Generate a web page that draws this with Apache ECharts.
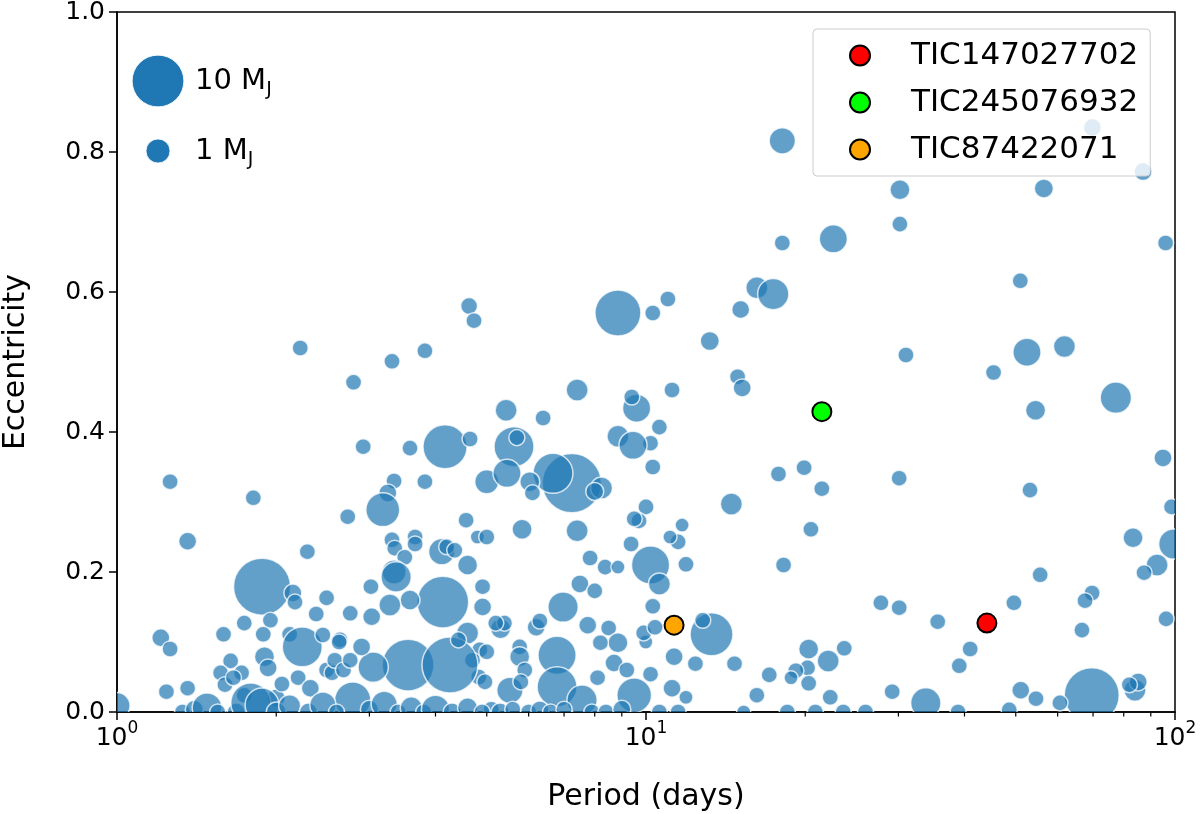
<!DOCTYPE html>
<html>
<head>
<meta charset="utf-8">
<script src="https://cdn.jsdelivr.net/npm/echarts@6/dist/echarts.min.js"></script>
<style>
  html, body { margin: 0; padding: 0; background: #fff; }
  #chart { width: 1200px; height: 814px; }
</style>
</head>
<body>
<div id="chart"></div>
<script>
// known planets: [period (days), eccentricity, mass (M_J)]
const planets = [
  [18.1, 0.816, 1.3], [69.8, 0.835, 0.42], [87.0, 0.772, 0.42], [30.2, 0.746, 0.58],
  [30.2, 0.697, 0.3], [22.6, 0.676, 1.6], [18.1, 0.670, 0.3], [56.5, 0.748, 0.5],
  [96.0, 0.670, 0.3], [51.0, 0.616, 0.3], [16.2, 0.606, 0.77], [17.4, 0.597, 2.2],
  [15.1, 0.575, 0.42], [8.85, 0.570, 7.0], [10.3, 0.570, 0.3], [11.0, 0.590, 0.3],
  [4.63, 0.580, 0.35], [4.73, 0.559, 0.3], [3.82, 0.516, 0.3], [3.31, 0.501, 0.3],
  [2.80, 0.471, 0.3], [2.22, 0.520, 0.3], [13.2, 0.530, 0.5], [14.9, 0.479, 0.3],
  [15.2, 0.463, 0.42], [77.3, 0.449, 2.2], [54.5, 0.431, 0.58], [52.5, 0.514, 1.6],
  [61.8, 0.522, 0.77], [45.4, 0.485, 0.3], [31.0, 0.510, 0.3], [94.9, 0.363, 0.42],
  [53.2, 0.317, 0.3], [98.5, 0.293, 0.3], [83.3, 0.249, 0.58], [99.5, 0.240, 2.0],
  [92.5, 0.210, 0.77], [87.4, 0.199, 0.3], [55.6, 0.196, 0.3], [69.7, 0.170, 0.3],
  [67.6, 0.159, 0.3], [66.7, 0.117, 0.3], [96.2, 0.133, 0.3], [49.6, 0.156, 0.3],
  [41.0, 0.090, 0.3], [39.1, 0.066, 0.3], [35.6, 0.129, 0.3], [30.1, 0.149, 0.3],
  [27.8, 0.156, 0.3], [51.1, 0.031, 0.42], [54.6, 0.019, 0.3], [69.6, 0.024, 12.0],
  [60.6, 0.013, 0.3], [84.0, 0.031, 0.77], [85.2, 0.043, 0.42], [82.0, 0.039, 0.3],
  [33.8, 0.013, 2.0], [48.6, 0.003, 0.3], [38.9, 0.0, 0.3], [29.2, 0.029, 0.3],
  [23.7, 0.091, 0.3], [22.1, 0.073, 0.77], [20.3, 0.090, 0.58], [20.2, 0.063, 0.3],
  [19.2, 0.059, 0.3], [18.8, 0.049, 0.2], [20.3, 0.041, 0.3], [22.3, 0.021, 0.3],
  [17.1, 0.053, 0.3], [16.2, 0.024, 0.3], [15.3, 0.0, 0.2], [23.6, 0.0, 0.3],
  [26.0, 0.0, 0.3], [18.5, 0.0, 0.3], [20.9, 0.0, 0.3], [14.7, 0.069, 0.3],
  [13.3, 0.111, 5.7], [12.8, 0.131, 0.3], [12.4, 0.069, 0.3], [11.3, 0.079, 0.42],
  [11.2, 0.034, 0.42], [11.9, 0.021, 0.2], [11.5, 0.0, 0.3], [10.2, 0.054, 0.3],
  [9.99, 0.100, 0.2], [9.5, 0.024, 3.0], [10.3, 0.151, 0.3], [10.2, 0.210, 4.0],
  [10.6, 0.183, 0.77], [11.9, 0.211, 0.3], [11.5, 0.243, 0.3], [11.1, 0.250, 0.2],
  [11.7, 0.267, 0.2], [10.0, 0.293, 0.3], [9.7, 0.273, 0.3], [14.5, 0.297, 0.77],
  [10.3, 0.350, 0.3], [10.6, 0.407, 0.3], [10.2, 0.384, 0.3], [9.6, 0.434, 1.6],
  [11.2, 0.460, 0.3], [17.8, 0.340, 0.3], [19.9, 0.349, 0.3], [21.5, 0.319, 0.3],
  [30.1, 0.334, 0.3], [20.5, 0.261, 0.3], [18.2, 0.210, 0.3],
  [7.41, 0.460, 0.77], [9.4, 0.450, 0.3], [5.44, 0.431, 0.77], [6.39, 0.420, 0.3],
  [8.85, 0.394, 0.77], [9.45, 0.381, 1.6], [4.17, 0.379, 6.2], [4.65, 0.390, 0.3],
  [3.58, 0.377, 0.3], [2.92, 0.379, 0.3], [5.63, 0.379, 4.6], [5.7, 0.392, 0.3],
  [7.24, 0.327, 15.0], [6.67, 0.341, 4.6], [8.24, 0.320, 0.77], [8.0, 0.315, 0.42],
  [5.0, 0.329, 1.0], [5.46, 0.341, 1.6], [6.03, 0.329, 0.58], [6.1, 0.313, 0.3],
  [3.82, 0.329, 0.3], [3.34, 0.330, 0.3], [3.25, 0.313, 0.42], [3.18, 0.289, 2.8],
  [2.73, 0.279, 0.3], [2.29, 0.229, 0.3], [4.57, 0.274, 0.3], [5.83, 0.261, 0.58],
  [7.41, 0.259, 0.77], [9.5, 0.276, 0.3], [9.37, 0.240, 0.3], [4.8, 0.250, 0.2],
  [5.0, 0.250, 0.3], [3.66, 0.250, 0.3], [3.66, 0.240, 0.3], [3.31, 0.246, 0.3],
  [3.35, 0.234, 0.3], [4.11, 0.229, 1.3], [4.2, 0.236, 0.3], [4.35, 0.231, 0.3],
  [3.5, 0.221, 0.3], [4.6, 0.210, 0.58], [3.34, 0.200, 1.0], [7.84, 0.220, 0.3],
  [8.37, 0.207, 0.3], [8.85, 0.207, 0.2], [1.26, 0.329, 0.3], [1.81, 0.306, 0.3],
  [1.36, 0.244, 0.42], [3.37, 0.193, 2.0], [3.02, 0.179, 0.3], [4.13, 0.157, 10.0],
  [3.58, 0.160, 0.58], [4.91, 0.179, 0.3], [4.91, 0.150, 0.42], [4.6, 0.113, 0.77],
  [2.76, 0.141, 0.3], [3.03, 0.136, 0.42], [3.28, 0.153, 0.77], [7.5, 0.183, 0.42],
  [8.0, 0.173, 0.3], [6.97, 0.150, 2.0], [5.31, 0.119, 0.58], [5.4, 0.127, 0.3],
  [6.2, 0.121, 0.42], [6.3, 0.130, 0.3], [9.9, 0.113, 0.3], [10.4, 0.121, 0.3],
  [7.76, 0.124, 0.42], [8.5, 0.120, 0.3], [8.85, 0.099, 0.58], [6.79, 0.081, 4.0],
  [8.2, 0.099, 0.3], [5.77, 0.093, 0.3], [5.77, 0.079, 0.58], [5.2, 0.127, 0.3],
  [4.85, 0.089, 0.3], [4.7, 0.074, 0.3], [4.83, 0.050, 0.3], [3.55, 0.067, 10.0],
  [4.26, 0.067, 12.7], [6.79, 0.036, 4.6], [5.53, 0.031, 1.3], [7.57, 0.017, 2.0],
  [8.1, 0.049, 0.3], [8.7, 0.070, 0.42], [9.2, 0.060, 0.3], [2.79, 0.017, 3.4],
  [3.05, 0.064, 2.0], [2.90, 0.093, 0.42], [2.64, 0.103, 0.3], [4.42, 0.103, 0.3],
  [5.0, 0.086, 0.3], [4.96, 0.043, 0.3], [5.9, 0.060, 0.3], [5.8, 0.043, 0.3],
  [5.1, 0.004, 0.3],
  [1.88, 0.179, 13.4], [2.15, 0.170, 0.42], [2.17, 0.157, 0.3], [2.49, 0.163, 0.3],
  [2.38, 0.140, 0.3], [1.95, 0.131, 0.3], [1.74, 0.127, 0.3], [1.59, 0.111, 0.3],
  [1.89, 0.111, 0.3], [2.12, 0.111, 0.3], [2.24, 0.093, 4.6], [2.45, 0.110, 0.3],
  [2.63, 0.100, 0.3], [1.90, 0.079, 0.58], [1.93, 0.063, 0.42], [1.64, 0.073, 0.3],
  [1.57, 0.056, 0.3], [1.72, 0.056, 0.3], [1.60, 0.039, 0.3], [1.66, 0.049, 0.3],
  [1.36, 0.034, 0.3], [2.20, 0.049, 0.3], [2.32, 0.034, 0.42], [2.49, 0.060, 0.3],
  [2.55, 0.056, 0.3], [2.58, 0.074, 0.3], [2.68, 0.060, 0.3], [2.76, 0.074, 0.3],
  [1.21, 0.106, 0.42], [1.26, 0.090, 0.3], [1.24, 0.029, 0.3], [1.74, 0.024, 0.3],
  [2.0, 0.020, 0.42], [2.05, 0.040, 0.3],
  [1.00, 0.009, 1.3], [1.33, 0.0, 0.3], [1.40, 0.004, 0.42], [1.48, 0.006, 1.9],
  [1.55, 0.0, 0.3], [1.68, 0.0, 0.42], [1.79, 0.013, 4.6], [1.88, 0.010, 2.8],
  [2.0, 0.0, 0.58], [2.12, 0.009, 0.77], [2.3, 0.0, 0.42], [2.45, 0.010, 1.3],
  [2.6, 0.0, 0.3], [3.0, 0.004, 0.42], [3.2, 0.011, 1.3], [3.4, 0.0, 0.3],
  [3.6, 0.006, 0.77], [3.8, 0.0, 0.3], [4.0, 0.004, 1.6], [4.3, 0.0, 0.42],
  [4.6, 0.006, 0.58], [4.9, 0.0, 0.3], [5.3, 0.0, 0.42], [5.6, 0.004, 0.3],
  [6.0, 0.0, 0.3], [6.3, 0.003, 0.42], [6.6, 0.0, 0.3], [7.0, 0.004, 0.3],
  [7.9, 0.0, 0.3], [8.4, 0.0, 0.3], [9.0, 0.004, 0.42], [10.6, 0.0, 0.3]
];

// TESS targets
const ticNames = ['TIC147027702', 'TIC245076932', 'TIC87422071'];
const ticPeriod = [44.1, 21.5, 11.3];
const ticEcc = [0.127, 0.429, 0.124];
const ticColors = ['#ff0000', '#00ff00', '#ffa500'];

// size key
const keyMass = [10, 1];
const keyLabels = ['10 M{sub|J}', '1 M{sub|J}'];

const xMinorTicks = [2, 3, 4, 5, 6, 7, 8, 9, 20, 30, 40, 50, 60, 70, 80, 90];

const FONT = 'DejaVu Sans';
// marker diameter in px from mass (1 M_J -> 24 px)
function diam(m) { return 24 * Math.cbrt(m); }

const chart = echarts.init(document.getElementById('chart'), null, { renderer: 'canvas' });

const ticSeries = ticNames.map((name, i) => ({
  name: name,
  type: 'scatter',
  data: [[ticPeriod[i], ticEcc[i]]],
  symbol: 'circle',
  symbolSize: 19,
  itemStyle: { color: ticColors[i], borderColor: '#000', borderWidth: 2, opacity: 1 },
  z: 5,
  silent: true
}));

// size key drawn as graphic next to plot
const keyGraphics = [];
keyMass.forEach((m, i) => {
  const cy = [81, 151][i];
  keyGraphics.push({
    type: 'circle', shape: { cx: 158, cy: cy, r: diam(m) / 2 },
    style: { fill: '#1f77b4', stroke: 'rgba(255,255,255,0.8)', lineWidth: 1 }, z: 10
  });
  keyGraphics.push({
    type: 'text', x: 195, y: cy, z: 10,
    style: {
      text: keyLabels[i], fill: '#000', font: '29px ' + FONT, verticalAlign: 'middle',
      rich: {
        sub: { fontSize: 19, fontFamily: FONT, lineHeight: 19, verticalAlign: 'bottom' }
      },
      lineHeight: 38
    }
  });
});

const option = {
  animation: false,
  backgroundColor: '#fff',
  grid: {
    left: 117, right: 25, top: 12, bottom: 102,
    containLabel: false, outerBoundsMode: 'none',
    show: true, borderColor: '#000', borderWidth: 1.5, backgroundColor: 'transparent'
  },
  legend: {
    data: ticNames,
    orient: 'vertical',
    left: 813, top: 29,
    padding: [11, 12, 11, 36],
    itemGap: 16,
    itemWidth: 20, itemHeight: 20,
    icon: 'circle',
    backgroundColor: 'rgba(255,255,255,0.8)',
    borderColor: '#cccccc', borderWidth: 1, borderRadius: 4,
    textStyle: { fontFamily: FONT, fontSize: 31, color: '#000', padding: [0, 0, 0, 36] },
    z: 20
  },
  xAxis: {
    type: 'log', logBase: 10, min: 1, max: 100,
    name: 'Period (days)', nameLocation: 'middle', nameGap: 70,
    nameTextStyle: { fontFamily: FONT, fontSize: 30, color: '#000' },
    axisLine: { lineStyle: { color: '#000', width: 1.5 } },
    axisTick: { show: true, inside: false, length: 8, lineStyle: { color: '#000', width: 1.5 } },
    splitLine: { show: false },
    axisLabel: {
      margin: 8, color: '#000', fontFamily: FONT, fontSize: 25,
      formatter: v => '10{sup|' + Math.round(Math.log10(v)) + '}',
      rich: { sup: { fontSize: 17, fontFamily: FONT, lineHeight: 17, verticalAlign: 'top' } },
      lineHeight: 36
    }
  },
  yAxis: {
    type: 'value', min: 0, max: 1, interval: 0.2,
    name: 'Eccentricity', nameLocation: 'middle', nameGap: 86,
    nameTextStyle: { fontFamily: FONT, fontSize: 30, color: '#000' },
    axisLine: { show: true, lineStyle: { color: '#000', width: 1.5 } },
    axisTick: { show: true, length: 8, lineStyle: { color: '#000', width: 1.5 } },
    splitLine: { show: false },
    axisLabel: {
      margin: 12, color: '#000', fontFamily: FONT, fontSize: 25,
      formatter: v => v.toFixed(1)
    }
  },
  graphic: keyGraphics,
  series: [
    {
      name: 'planets',
      type: 'custom',
      data: planets,
      encode: { x: 0, y: 1 },
      clip: true,
      silent: true,
      z: 2,
      renderItem: function (params, api) {
        const pt = api.coord([api.value(0), api.value(1)]);
        return {
          type: 'circle',
          shape: { cx: pt[0], cy: pt[1], r: diam(api.value(2)) / 2 },
          style: { fill: 'rgba(31,119,180,0.7)', stroke: 'rgba(255,255,255,0.75)', lineWidth: 1.5 }
        };
      }
    },
    {
      name: 'minor ticks',
      type: 'custom',
      data: xMinorTicks.map(v => [v, 0]),
      encode: { x: 0, y: 1 },
      clip: false,
      silent: true,
      z: 6,
      renderItem: function (params, api) {
        const pt = api.coord([api.value(0), 0]);
        return {
          type: 'line',
          shape: { x1: pt[0], y1: pt[1], x2: pt[0], y2: pt[1] + 4.5 },
          style: { stroke: '#000', lineWidth: 1.2 }
        };
      }
    }
  ].concat(ticSeries)
};

chart.setOption(option);
</script>
</body>
</html>
